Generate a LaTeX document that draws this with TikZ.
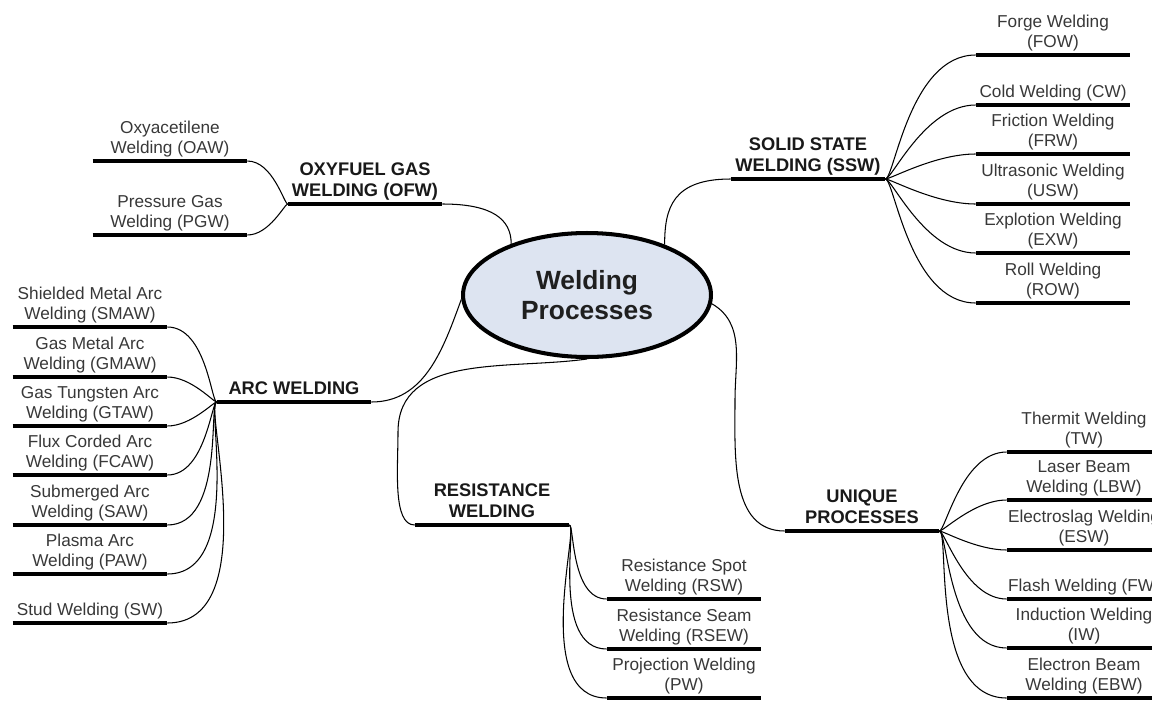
\documentclass[tikz,border=0pt]{standalone}
\usepackage{fontspec}
\setmainfont{Liberation Sans}
\usetikzlibrary{shapes.geometric}

\definecolor{hubfill}{RGB}{221,228,241}
\newcommand{\leaffont}{\fontsize{9.8}{11.4}\selectfont}
\newcommand{\topicfont}{\fontsize{10.4}{11.9}\selectfont\bfseries}
\newcommand{\hubfont}{\fontsize{15}{17}\selectfont\bfseries}

\tikzset{
  hub/.style={ellipse, draw, line width=2.3pt, fill=hubfill, minimum width=4.96cm,
    minimum height=2.48cm, inner sep=0pt, align=center, font=\hubfont, text=black!88},
  bar/.style={line width=2.8pt},
  leaf/.style={anchor=south, align=center, minimum width=3.08cm, inner xsep=0pt,
    inner ysep=1.7pt, font=\leaffont, text=black!78,
    execute at end node={\rule[-2.4pt]{0pt}{2.4pt}},
    append after command={(\tikzlastnode.south west) edge[bar] (\tikzlastnode.south east)}},
  topic/.style={leaf, font=\topicfont, text=black!90},
  branch/.style={line width=0.6pt},
  twig/.style={line width=0.6pt, out looseness=0.15, in looseness=1.1},
  twigR/.style={twig, out=0, in=180},
  twigL/.style={twig, out=180, in=0}
}

\begin{document}
\begin{tikzpicture}[x=0.02cm, y=-0.02cm]
  \useasboundingbox (0,0) rectangle (1152,700);

  \node[hub] (hub) at (587,295) {Welding\\Processes};

  \node[topic] (ofw) at (365,204) {OXYFUEL GAS\\WELDING (OFW)};
  \node[topic] (ssw) at (808,179) {SOLID STATE\\WELDING (SSW)};
  \node[topic] (arc) at (294,402) {ARC WELDING};
  \node[topic] (res) at (492,525) {RESISTANCE\\WELDING};
  \node[topic] (uq) at (862,531) {UNIQUE\\PROCESSES};

  \node[leaf] (oaw) at (170,161) {Oxyacetilene\\Welding (OAW)};
  \node[leaf] (pgw) at (170,235) {Pressure Gas\\Welding (PGW)};

  \node[leaf] (fow) at (1053,55) {Forge Welding\\(FOW)};
  \node[leaf] (cw) at (1053,105) {Cold Welding (CW)};
  \node[leaf] (frw) at (1053,154) {Friction Welding\\(FRW)};
  \node[leaf] (usw) at (1053,204) {Ultrasonic Welding\\(USW)};
  \node[leaf] (exw) at (1053,253) {Explotion Welding\\(EXW)};
  \node[leaf] (row) at (1053,303) {Roll Welding\\(ROW)};

  \node[leaf] (smaw) at (90,327) {Shielded Metal Arc\\Welding (SMAW)};
  \node[leaf] (gmaw) at (90,377) {Gas Metal Arc\\Welding (GMAW)};
  \node[leaf] (gtaw) at (90,426) {Gas Tungsten Arc\\Welding (GTAW)};
  \node[leaf] (fcaw) at (90,475) {Flux Corded Arc\\Welding (FCAW)};
  \node[leaf] (saw) at (90,525) {Submerged Arc\\Welding (SAW)};
  \node[leaf] (paw) at (90,574) {Plasma Arc\\Welding (PAW)};
  \node[leaf] (sw) at (90,623) {Stud Welding (SW)};

  \node[leaf] (rsw) at (684,599) {Resistance Spot\\Welding (RSW)};
  \node[leaf] (rsew) at (684,649) {Resistance Seam\\Welding (RSEW)};
  \node[leaf] (pw) at (684,698) {Projection Welding\\(PW)};

  \node[leaf] (tw) at (1084,452) {Thermit Welding\\(TW)};
  \node[leaf] (lbw) at (1084,500) {Laser Beam\\Welding (LBW)};
  \node[leaf] (esw) at (1084,550) {Electroslag Welding\\(ESW)};
  \node[leaf] (fw) at (1084,599) {Flash Welding (FW)};
  \node[leaf] (iw) at (1084,648) {Induction Welding\\(IW)};
  \node[leaf] (ebw) at (1084,698) {Electron Beam\\Welding (EBW)};

  \coordinate (resbend) at (398,432);
  \coordinate (uqbend) at (735,400);

  \draw[branch] (hub.146) to[out=90, in=0, out looseness=0.8, in looseness=1.6] (ofw.south east);
  \draw[branch] (hub.33) to[out=90, in=180, in looseness=1.6] (ssw.south west);
  \draw[branch] (hub.182) to[out=250, in=0] (arc.south east);
  \draw[branch] (hub.south) to[out=188, in=90] (resbend) to[out=-90, in=180, in looseness=0.6] (res.south west);
  \draw[branch] (hub.-4) to[out=-30, in=90] (uqbend) to[out=-90, in=180] (uq.south west);

  \draw[twigL] (ofw.south west) edge (oaw.south east) edge (pgw.south east);
  \draw[twigR] (ssw.south east) edge (fow.south west) edge (cw.south west) edge (frw.south west)
    edge (usw.south west) edge (exw.south west) edge (row.south west);
  \draw[twigL] (arc.south west) edge (smaw.south east) edge (gmaw.south east) edge (gtaw.south east)
    edge (fcaw.south east) edge (saw.south east) edge (paw.south east) edge (sw.south east);
  \draw[twigR] (res.south east) edge (rsw.south west) edge (rsew.south west) edge (pw.south west);
  \draw[twigR] (uq.south east) edge (tw.south west) edge (lbw.south west) edge (esw.south west)
    edge (fw.south west) edge (iw.south west) edge (ebw.south west);
\end{tikzpicture}
\end{document}
